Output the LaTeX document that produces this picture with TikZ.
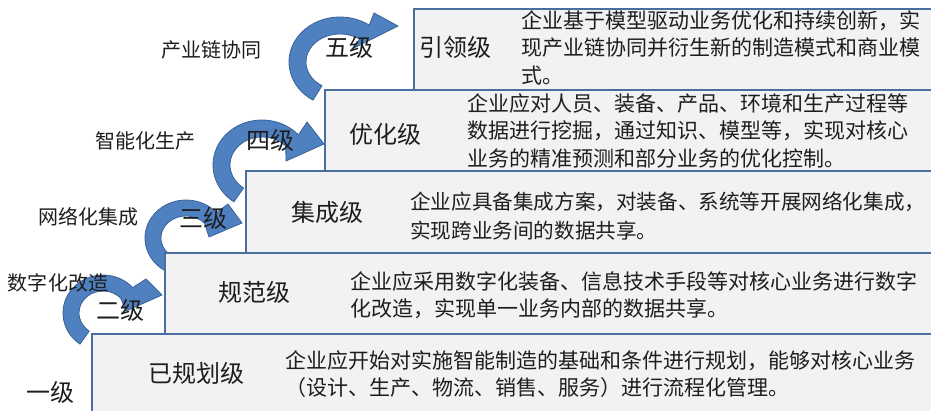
\documentclass[tikz,border=0pt]{standalone}
\usepackage{fontspec}
\setmainfont{Noto Sans CJK SC}
\definecolor{boxline}{HTML}{4A6E9E}
\definecolor{boxfill}{HTML}{F2F2F2}
\definecolor{arrfill}{HTML}{4F80BF}
\definecolor{arrline}{HTML}{3A6298}
\definecolor{txt}{HTML}{1E1E1E}
\begin{document}
\begin{tikzpicture}[x=1pt,y=1pt,
  box/.style={draw=boxline, line width=2pt, fill=boxfill, rectangle, anchor=north west,
              minimum width=900pt, minimum height=82pt, inner sep=0pt},
  arr/.style={fill=arrfill, draw=arrline, line width=0.8pt, line join=round},
  lvl/.style={font=\fontsize{24}{28}\selectfont, text=txt, inner sep=0pt},
  desc/.style={font=\fontsize{21}{27.5}\selectfont, text=txt, align=left, anchor=north west, inner sep=0pt},
  side/.style={font=\fontsize{20}{22}\selectfont, text=txt, inner sep=0pt}]
\useasboundingbox (0,0) rectangle (931,-410);
\clip (0,0) rectangle (931,-410);
\fill[white] (0,0) rectangle (931,-410);

% curved arrows
% arrow 5
\path[arr] (340,-62) ++(238:51 and 45) arc[start angle=238,end angle=55,x radius=51,y radius=45]
  -- (374,-13) -- (398,-26) -- (354,-48)
  -- ([shift={(340,-62)}]55:34 and 28) arc[start angle=55,end angle=238,x radius=34,y radius=28] -- cycle;
% arrow 4
\path[arr] (262,-165) ++(235:49 and 45) arc[start angle=235,end angle=42,x radius=49,y radius=45]
  -- (307,-122) -- (324,-144) -- (286,-161)
  -- ([shift={(262,-165)}]42:32 and 28) arc[start angle=42,end angle=235,x radius=32,y radius=28] -- cycle;
% arrow 3
\path[arr] (186,-238) ++(238:41 and 38) arc[start angle=238,end angle=42,x radius=41,y radius=38]
  -- (228,-204) -- (242,-223) -- (209,-237)
  -- ([shift={(186,-238)}]42:25 and 22) arc[start angle=42,end angle=238,x radius=25,y radius=22] -- cycle;
% arrow 2
\path[arr] (103,-313) ++(235:40 and 38) arc[start angle=235,end angle=42,x radius=40,y radius=38]
  -- (146,-279) -- (162,-295) -- (126,-311)
  -- ([shift={(103,-313)}]42:24 and 22) arc[start angle=42,end angle=235,x radius=24,y radius=22] -- cycle;

% boxes
\node[box] (b5) at (413,-8) {};
\node[box] (b4) at (324,-89) {};
\node[box] (b3) at (245,-170) {};
\node[box] (b2) at (164,-252) {};
\node[box, minimum height=100pt] (b1) at (91,-333) {};

% box titles
\node[lvl] (t5) at (455,-47) {引领级};
\node[lvl] (t4) at (385,-134) {优化级};
\node[lvl] (t3) at (327,-212) {集成级};
\node[lvl] (t2) at (254,-292) {规范级};
\node[lvl] (t1) at (196,-373) {已规划级};

% descriptions
\node[desc] (d5) at (521,-10) {企业基于模型驱动业务优化和持续创新，实\\现产业链协同并衍生新的制造模式和商业模\\式。};
\node[desc] (d4) at (467,-93) {企业应对人员、装备、产品、环境和生产过程等\\数据进行挖掘，通过知识、模型等，实现对核心\\业务的精准预测和部分业务的优化控制。};
\node[desc, font=\fontsize{20.6}{28.5}\selectfont] (d3) at (410,-192) {企业应具备集成方案，对装备、系统等开展网络化集成，\\实现跨业务间的数据共享。};
\node[desc] (d2) at (350,-271) {企业应采用数字化装备、信息技术手段等对核心业务进行数字\\化改造，实现单一业务内部的数据共享。};
\node[desc] (d1) at (285,-350) {企业应开始对实施智能制造的基础和条件进行规划，能够对核心业务\\（设计、生产、物流、销售、服务）进行流程化管理。};

% level labels
\node[lvl] (l5) at (349,-47) {五级};
\node[lvl] (l4) at (270,-140) {四级};
\node[lvl] (l3) at (203,-218) {三级};
\node[lvl] (l2) at (120,-310) {二级};
\node[lvl] (l1) at (50,-392) {一级};

% side labels
\node[side] (s5) at (211,-50) {产业链协同};
\node[side] (s4) at (145,-141) {智能化生产};
\node[side] (s3) at (88,-217) {网络化集成};
\node[side] (s2) at (58,-283) {数字化改造};
\end{tikzpicture}
\end{document}
